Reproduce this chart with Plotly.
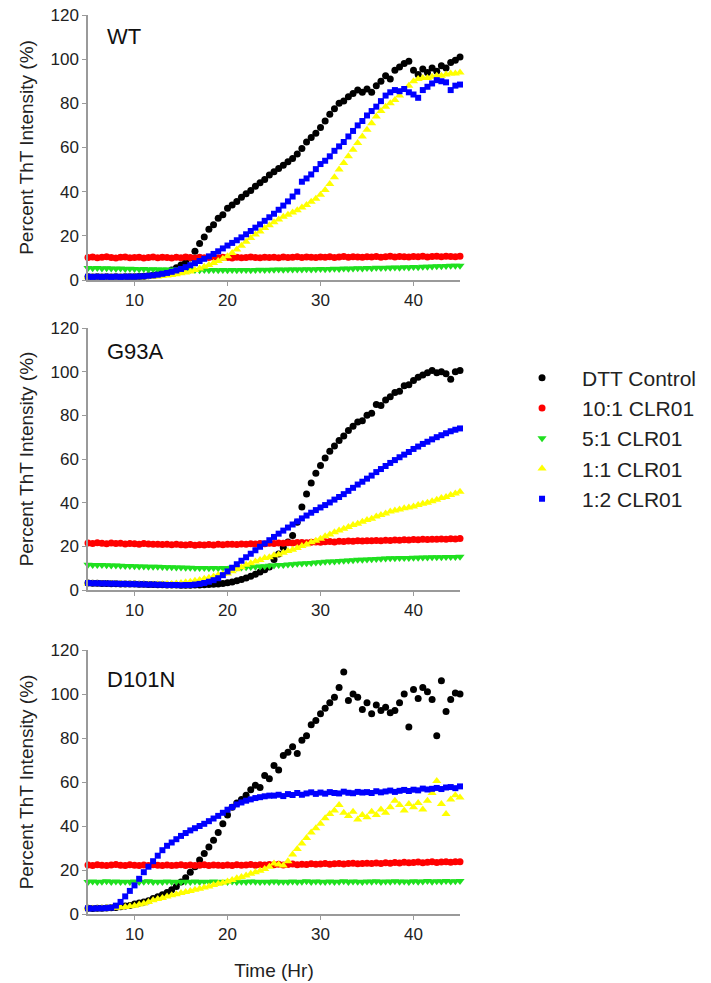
import plotly.graph_objects as go

# ---------------- data ----------------
TIME = [5, 5.5, 6, 6.5, 7, 7.5, 8, 8.5, 9, 9.5,
        10, 10.5, 11, 11.5, 12, 12.5, 13, 13.5, 14, 14.5,
        15, 15.5, 16, 16.5, 17, 17.5, 18, 18.5, 19, 19.5,
        20, 20.5, 21, 21.5, 22, 22.5, 23, 23.5, 24, 24.5,
        25, 25.5, 26, 26.5, 27, 27.5, 28, 28.5, 29, 29.5,
        30, 30.5, 31, 31.5, 32, 32.5, 33, 33.5, 34, 34.5,
        35, 35.5, 36, 36.5, 37, 37.5, 38, 38.5, 39, 39.5,
        40, 40.5, 41, 41.5, 42, 42.5, 43, 43.5, 44, 44.5,
        45]

SERIES_NAMES = ["DTT Control", "10:1 CLR01", "5:1 CLR01", "1:1 CLR01", "1:2 CLR01"]
PANEL_LABELS = ["WT", "G93A", "D101N"]
X_TICKS = [10, 20, 30, 40]
Y_TICKS = [0, 20, 40, 60, 80, 100, 120]

# ----- WT -----
WT_DTT = [1.5, 1.4, 1.5, 1.4, 1.5, 1.4, 1.5, 1.4, 1.5, 1.5,
          1.5, 1.6, 1.7, 1.9, 2.2, 2.6, 3.1, 3.7, 4.5, 5.5,
          6.8, 8.3, 10.0, 13.0, 16.5, 19.5, 23.0, 25.0, 28.0, 29.5,
          32.5, 34.0, 35.5, 37.5, 39.0, 40.5, 42.5, 44.0, 45.5, 47.5,
          49.0, 50.5, 52.0, 53.5, 55.0, 57.0, 59.5, 62.5, 64.5, 66.5,
          69.0, 72.0, 75.0, 77.5, 80.0, 81.0, 83.0, 84.5, 86.0, 85.0,
          86.5, 85.0, 88.0, 90.0, 92.5, 91.0, 95.0, 96.5, 98.0, 99.0,
          95.0, 93.0, 95.5, 94.0, 96.0, 94.5, 97.0, 96.0, 98.5, 99.5,
          101.0]
WT_10_1 = [10.2, 10.4, 10.1, 10.3, 10.5, 10.2, 10.0, 10.3, 10.4, 10.1,
           10.2, 10.3, 10.0, 10.2, 10.4, 10.1, 10.3, 10.2, 10.0, 10.3,
           10.1, 10.4, 10.2, 10.0, 10.3, 10.1, 10.2, 10.4, 10.1, 10.3,
           10.2, 10.0, 10.3, 10.1, 10.2, 10.4, 10.2, 10.1, 10.3, 10.2,
           10.3, 10.1, 10.4, 10.2, 10.3, 10.5, 10.2, 10.4, 10.3, 10.2,
           10.4, 10.3, 10.5, 10.2, 10.4, 10.6, 10.3, 10.5, 10.4, 10.3,
           10.5, 10.4, 10.6, 10.3, 10.5, 10.7, 10.4, 10.6, 10.5, 10.4,
           10.6, 10.5, 10.7, 10.4, 10.6, 10.8, 10.5, 10.7, 10.6, 10.5,
           10.7]
WT_5_1 = [5.4, 5.3, 5.4, 5.2, 5.3, 5.2, 5.1, 5.2, 5.0, 5.1,
          5.0, 4.9, 5.0, 4.8, 4.9, 4.7, 4.8, 4.7, 4.6, 4.7,
          4.6, 4.5, 4.6, 4.5, 4.4, 4.5, 4.4, 4.5, 4.4, 4.5,
          4.4, 4.5, 4.4, 4.5, 4.5, 4.4, 4.5, 4.6, 4.5, 4.6,
          4.6, 4.7, 4.6, 4.7, 4.8, 4.7, 4.8, 4.9, 4.8, 4.9,
          5.0, 4.9, 5.0, 5.1, 5.0, 5.2, 5.1, 5.2, 5.3, 5.2,
          5.4, 5.3, 5.5, 5.4, 5.6, 5.5, 5.7, 5.6, 5.8, 5.7,
          5.9, 5.8, 6.0, 6.0, 6.1, 6.2, 6.2, 6.3, 6.4, 6.4,
          6.5]
WT_1_1 = [1.2, 1.1, 1.2, 1.1, 1.2, 1.1, 1.2, 1.1, 1.2, 1.2,
          1.2, 1.3, 1.3, 1.4, 1.5, 1.6, 1.8, 2.0, 2.3, 2.6,
          3.0, 3.4, 3.9, 4.5, 5.2, 6.0, 6.8, 7.7, 8.6, 9.6,
          10.8, 12.2, 13.8, 15.5, 17.3, 19.0, 20.6, 22.0, 23.5, 24.8,
          26.2, 27.4, 28.6, 29.6, 30.6, 31.6, 32.8, 34.0, 35.4, 36.8,
          38.6, 40.8, 43.5, 46.5, 50.0, 53.0, 56.0, 59.0, 62.0, 65.0,
          68.0, 71.0, 74.0, 76.5, 78.5, 80.0, 81.5, 83.5, 86.0, 88.0,
          90.0, 91.0, 91.5, 91.5, 92.0, 92.5, 92.5, 93.0, 93.5, 93.5,
          94.0]
WT_1_2 = [1.5, 1.4, 1.5, 1.4, 1.5, 1.4, 1.5, 1.4, 1.5, 1.5,
          1.5, 1.6, 1.7, 1.9, 2.1, 2.4, 2.8, 3.2, 3.7, 4.3,
          5.0, 5.8, 6.7, 7.6, 8.6, 9.6, 10.7, 11.8, 13.0, 14.3,
          15.6, 16.8, 18.0, 19.3, 20.7, 22.2, 23.7, 25.2, 26.8, 28.4,
          30.0, 31.8, 33.7, 35.6, 37.8, 40.0, 44.5, 46.0, 47.8, 50.2,
          52.5, 54.0, 56.0, 58.5, 60.5, 62.5, 65.0, 67.5, 70.0, 72.0,
          74.5, 76.5, 78.5, 81.0, 83.5, 85.0, 86.0, 85.5, 86.5, 85.0,
          84.0, 82.5, 86.0, 87.5, 89.0, 90.5, 90.0, 89.5, 86.0, 88.0,
          88.5]

# ----- G93A -----
G93A_DTT = [3.2, 3.1, 3.1, 3.0, 3.0, 2.9, 2.9, 2.8, 2.8, 2.7,
            2.7, 2.6, 2.6, 2.5, 2.5, 2.4, 2.4, 2.3, 2.3, 2.3,
            2.2, 2.2, 2.2, 2.3, 2.3, 2.4, 2.5, 2.6, 2.8, 3.0,
            3.3, 3.7, 4.2, 4.8, 5.5, 6.3, 7.2, 8.2, 9.3, 10.5,
            14.0, 16.5, 19.5, 22.0, 25.0, 31.0, 38.0, 44.0, 49.0, 53.5,
            57.0, 60.5, 63.5, 66.0, 68.5, 70.5, 73.0, 75.0, 77.0, 77.5,
            80.0, 81.0, 85.0, 84.5, 87.0, 88.5, 90.5, 91.0, 93.5, 94.0,
            96.0, 97.5, 98.5, 99.5, 100.5, 99.5, 100.0, 99.0, 96.5, 100.0,
            100.5]
G93A_10_1 = [21.5, 21.3, 21.6, 21.4, 21.2, 21.5, 21.3, 21.4, 21.1, 21.3,
             21.2, 21.0, 21.3, 21.1, 20.9, 21.0, 20.8, 21.0, 20.7, 20.9,
             20.7, 20.6, 20.8, 20.5, 20.7, 20.6, 20.8, 20.6, 20.9, 20.7,
             20.9, 21.0, 20.8, 21.1, 21.0, 21.2, 21.1, 21.3, 21.2, 21.4,
             21.3, 21.5, 21.4, 21.6, 21.5, 21.7, 21.8, 21.6, 21.9, 22.0,
             21.9, 22.1, 22.2, 22.0, 22.3, 22.2, 22.4, 22.3, 22.5, 22.4,
             22.6, 22.5, 22.7, 22.6, 22.8, 22.7, 22.9, 22.8, 23.0, 22.9,
             23.1, 23.0, 23.2, 23.1, 23.3, 23.2, 23.4, 23.3, 23.5, 23.4,
             23.6]
G93A_5_1 = [11.6, 11.5, 11.4, 11.4, 11.3, 11.2, 11.2, 11.1, 11.0, 11.0,
            10.9, 10.8, 10.8, 10.7, 10.6, 10.6, 10.5, 10.4, 10.4, 10.3,
            10.3, 10.2, 10.2, 10.1, 10.1, 10.1, 10.0, 10.1, 10.0, 10.1,
            10.1, 10.2, 10.2, 10.3, 10.4, 10.5, 10.6, 10.8, 10.9, 11.1,
            11.2, 11.4, 11.5, 11.7, 11.8, 12.0, 12.1, 12.3, 12.4, 12.6,
            12.7, 12.9, 13.0, 13.1, 13.3, 13.4, 13.5, 13.6, 13.8, 13.9,
            14.0, 14.1, 14.2, 14.3, 14.4, 14.5, 14.5, 14.6, 14.7, 14.7,
            14.8, 14.8, 14.9, 14.9, 15.0, 15.0, 15.0, 15.1, 15.1, 15.1,
            15.2]
G93A_1_1 = [3.0, 2.9, 2.9, 2.8, 2.8, 2.7, 2.7, 2.7, 2.6, 2.6,
            2.6, 2.5, 2.5, 2.5, 2.5, 2.6, 2.6, 2.7, 2.8, 3.0,
            3.2, 3.5, 3.8, 4.2, 4.6, 5.1, 5.6, 6.2, 6.9, 7.3,
            7.6, 8.6, 9.5, 10.4, 11.6, 12.2, 13.1, 13.7, 14.6, 15.0,
            15.9, 16.3, 17.1, 17.9, 18.4, 19.2, 20.1, 20.8, 21.9, 22.6,
            23.5, 24.6, 25.4, 26.5, 27.3, 28.1, 28.9, 29.8, 30.4, 31.3,
            32.1, 32.6, 33.7, 34.3, 35.0, 35.9, 36.4, 36.9, 37.4, 37.8,
            38.3, 38.9, 39.5, 40.0, 40.7, 41.3, 42.1, 42.6, 43.5, 44.2,
            45.0]
G93A_1_2 = [3.2, 3.1, 3.1, 3.0, 3.0, 2.9, 2.9, 2.8, 2.8, 2.7,
            2.7, 2.6, 2.6, 2.5, 2.5, 2.4, 2.4, 2.3, 2.3, 2.3,
            2.2, 2.3, 2.3, 2.5, 2.8, 3.2, 3.8, 4.5, 5.4, 6.8,
            8.5, 10.2, 11.8, 13.4, 15.0, 16.6, 18.2, 19.8, 21.3, 22.8,
            24.3, 25.8, 27.2, 28.6, 30.0, 31.4, 32.8, 34.1, 35.4, 36.6,
            37.8, 38.9, 40.1, 41.4, 42.6, 43.9, 45.4, 46.8, 48.3, 49.6,
            51.0, 52.4, 54.0, 55.4, 56.8, 58.2, 59.5, 60.8, 62.0, 63.2,
            64.6, 65.7, 66.9, 67.9, 69.0, 70.0, 70.9, 71.8, 72.7, 73.4,
            74.0]

# ----- D101N -----
D101N_DTT = [2.6, 2.5, 2.6, 2.6, 2.7, 2.8, 3.0, 3.3, 3.6, 3.9,
             4.5, 5.0, 5.5, 6.0, 7.0, 7.8, 8.7, 9.8, 11.0, 12.5,
             14.5, 16.5, 19.0, 21.5, 24.5, 27.5, 30.5, 33.5, 37.0, 41.0,
             45.0, 48.5, 50.5, 52.0, 54.0, 56.5, 58.5, 57.5, 63.0, 61.5,
             67.5, 65.5, 72.0, 73.5, 76.0, 73.0, 79.0, 81.0, 86.0, 88.0,
             91.0, 93.5, 96.0, 98.5, 103.0, 110.0, 97.0, 100.0, 98.5, 93.0,
             96.0, 91.0, 95.0, 92.5, 94.0, 91.5, 92.5, 96.0, 100.0, 85.0,
             102.0, 98.0, 103.0, 101.0, 97.5, 81.0, 106.0, 92.0, 97.5, 100.5,
             100.0]
D101N_10_1 = [22.3, 22.1, 22.4, 22.2, 22.0, 22.3, 22.5, 22.2, 22.1, 22.4,
              22.2, 22.0, 22.3, 22.1, 22.4, 22.2, 22.0, 22.3, 22.1, 22.2,
              22.4, 22.1, 22.3, 22.0, 22.2, 22.4, 22.1, 22.3, 22.2, 22.0,
              22.3, 22.1, 22.4, 22.2, 22.3, 22.5, 22.2, 22.4, 22.3, 22.5,
              22.4, 22.6, 22.3, 22.5, 22.7, 22.4, 22.6, 22.5, 22.8, 22.6,
              22.7, 22.9, 22.6, 22.8, 23.0, 22.7, 22.9, 23.1, 22.8, 23.0,
              23.1, 22.9, 23.2, 23.0, 23.3, 23.1, 23.4, 23.2, 23.5, 23.3,
              23.4, 23.6, 23.3, 23.5, 23.7, 23.4, 23.6, 23.8, 23.5, 23.7,
              23.8]
D101N_5_1 = [14.6, 14.8, 14.5, 14.7, 14.9, 14.6, 14.8, 14.5, 14.7, 14.6,
             14.8, 14.5, 14.7, 14.9, 14.6, 14.7, 14.5, 14.8, 14.6, 14.7,
             14.5, 14.7, 14.6, 14.8, 14.5, 14.7, 14.6, 14.8, 14.5, 14.7,
             14.6, 14.8, 14.5, 14.7, 14.6, 14.8, 14.7, 14.5, 14.7, 14.6,
             14.8, 14.6, 14.7, 14.5, 14.8, 14.6, 14.7, 14.9, 14.6, 14.8,
             14.7, 14.5, 14.8, 14.6, 14.7, 14.9, 14.6, 14.8, 14.7, 14.6,
             14.8, 14.7, 14.9, 14.6, 14.8, 14.7, 14.9, 14.7, 14.8, 14.6,
             14.9, 14.7, 14.8, 15.0, 14.7, 14.9, 14.8, 15.0, 14.8, 14.9,
             15.0]
D101N_1_1 = [2.6, 2.5, 2.5, 2.6, 2.6, 2.7, 2.8, 3.0, 3.2, 3.5,
             3.8, 4.3, 4.8, 5.4, 6.2, 6.8, 7.3, 7.9, 8.5, 9.0,
             9.5, 10.0, 10.5, 11.0, 11.5, 12.0, 12.5, 13.2, 13.8, 14.2,
             14.8, 15.5, 16.2, 16.8, 17.5, 18.3, 19.0, 19.7, 20.5, 21.5,
             23.0, 22.5, 22.0, 24.0, 27.0, 29.5, 32.0, 34.5, 37.0, 39.0,
             41.0, 43.5, 45.5, 47.0, 49.5, 46.0, 44.5, 46.5, 43.0, 45.0,
             44.0, 46.5, 45.0, 47.5, 46.0, 48.5, 51.5, 49.5, 47.0, 50.0,
             48.5, 50.5, 47.5, 51.5, 55.0, 60.5, 50.0, 45.5, 52.0, 54.0,
             53.0]
D101N_1_2 = [2.6, 2.5, 2.6, 2.6, 2.7, 2.9, 3.8, 5.5, 8.0, 10.5,
             13.0, 16.0, 19.0, 21.5, 24.0, 26.5, 29.0, 31.0, 32.5, 34.0,
             35.5, 36.8, 38.0, 39.0, 40.0, 41.0, 42.2, 43.4, 44.6, 46.0,
             47.4, 48.6, 49.8, 50.7, 51.5, 52.1, 52.7, 53.1, 53.5, 53.8,
             53.8, 54.2, 53.6, 54.5, 54.1, 55.0, 54.2, 54.8, 55.3, 54.6,
             55.2, 54.7, 55.4, 55.0, 54.8, 55.6, 55.1, 54.9, 55.5, 55.2,
             55.4, 55.0, 55.8, 55.3, 55.7, 56.1, 55.5, 56.0, 56.4, 55.9,
             56.5, 56.2, 57.0, 56.6, 56.9, 57.3, 56.8, 57.5, 57.7, 57.2,
             58.0]

PANEL_DATA = [
    [WT_DTT, WT_10_1, WT_5_1, WT_1_1, WT_1_2],
    [G93A_DTT, G93A_10_1, G93A_5_1, G93A_1_1, G93A_1_2],
    [D101N_DTT, D101N_10_1, D101N_5_1, D101N_1_1, D101N_1_2],
]

# ---------------- style ----------------
COLORS = ["#000000", "#ff0000", "#1fe01f", "#ffff00", "#0000ff"]
SYMBOLS = ["circle", "circle", "triangle-down", "triangle-up", "square"]
SIZES = [7, 7, 8, 8, 6]
FONT = "Liberation Sans, Arial, sans-serif"
AXIS_GRAY = "#9a9a9a"

W, H = 711, 983
ML, MR, MT, MB = 88, 251, 15, 69
PH = H - MT - MB
# pixel rows of each panel (top, bottom)
PANEL_PX = [(15, 280), (328, 590), (650, 914)]
LABEL_POS = [0.918, 0.909, 0.887]

fig = go.Figure()

for p, series in enumerate(PANEL_DATA):
    ax = "" if p == 0 else str(p + 1)
    for s, vals in enumerate(series):
        fig.add_trace(go.Scatter(
            x=TIME, y=vals, mode="markers",
            name=SERIES_NAMES[s], legendgroup=SERIES_NAMES[s],
            showlegend=(p == 0),
            marker=dict(color=COLORS[s], symbol=SYMBOLS[s], size=SIZES[s],
                        line=dict(width=0)),
            cliponaxis=False,
            xaxis="x" + ax, yaxis="y" + ax,
        ))

layout = dict(
    width=W, height=H,
    margin=dict(l=ML, r=MR, t=MT, b=MB, autoexpand=False),
    paper_bgcolor="white", plot_bgcolor="white",
    font=dict(family=FONT, color="#222222", size=17),
    showlegend=True,
    legend=dict(x=1.113, y=0.619, xanchor="left", yanchor="top",
                font=dict(size=21, family=FONT, color="#222222"),
                bgcolor="rgba(0,0,0,0)", tracegroupgap=0, itemwidth=70),
    annotations=[],
)

for p in range(3):
    ax = "" if p == 0 else str(p + 1)
    top, bot = PANEL_PX[p]
    d0 = 1 - (bot - MT) / PH
    d1 = 1 - (top - MT) / PH
    xa = dict(range=[5, 45], tickvals=X_TICKS, showgrid=False, zeroline=False,
              showline=True, linecolor=AXIS_GRAY, linewidth=1.5,
              ticks="outside", ticklen=4, tickcolor=AXIS_GRAY, tickwidth=1,
              tickfont=dict(size=17, family=FONT, color="#222222"),
              anchor="y" + ax, domain=[0, 1], automargin=False)
    if p == 2:
        xa["title"] = dict(text="Time (Hr)", font=dict(size=19, family=FONT, color="#222222"),
                           standoff=21)
    ya = dict(range=[0, 120], tickvals=Y_TICKS, showgrid=False, zeroline=False,
              showline=True, linecolor=AXIS_GRAY, linewidth=1.5,
              ticks="outside", ticklen=4, tickcolor=AXIS_GRAY, tickwidth=1,
              tickfont=dict(size=17, family=FONT, color="#222222"),
              anchor="x" + ax, domain=[d0, d1], automargin=False,
              title=dict(text="Percent ThT Intensity (%)",
                         font=dict(size=19, family=FONT, color="#222222"),
                         standoff=12))
    layout["xaxis" + ax] = xa
    layout["yaxis" + ax] = ya
    layout["annotations"].append(dict(
        text=PANEL_LABELS[p], xref=("x" + ax) + " domain", yref=("y" + ax) + " domain",
        x=0.045, y=LABEL_POS[p], xanchor="left", yanchor="middle", showarrow=False,
        font=dict(size=22, family=FONT, color="#111111")))

fig.update_layout(**layout)
fig.write_html("out.html")
